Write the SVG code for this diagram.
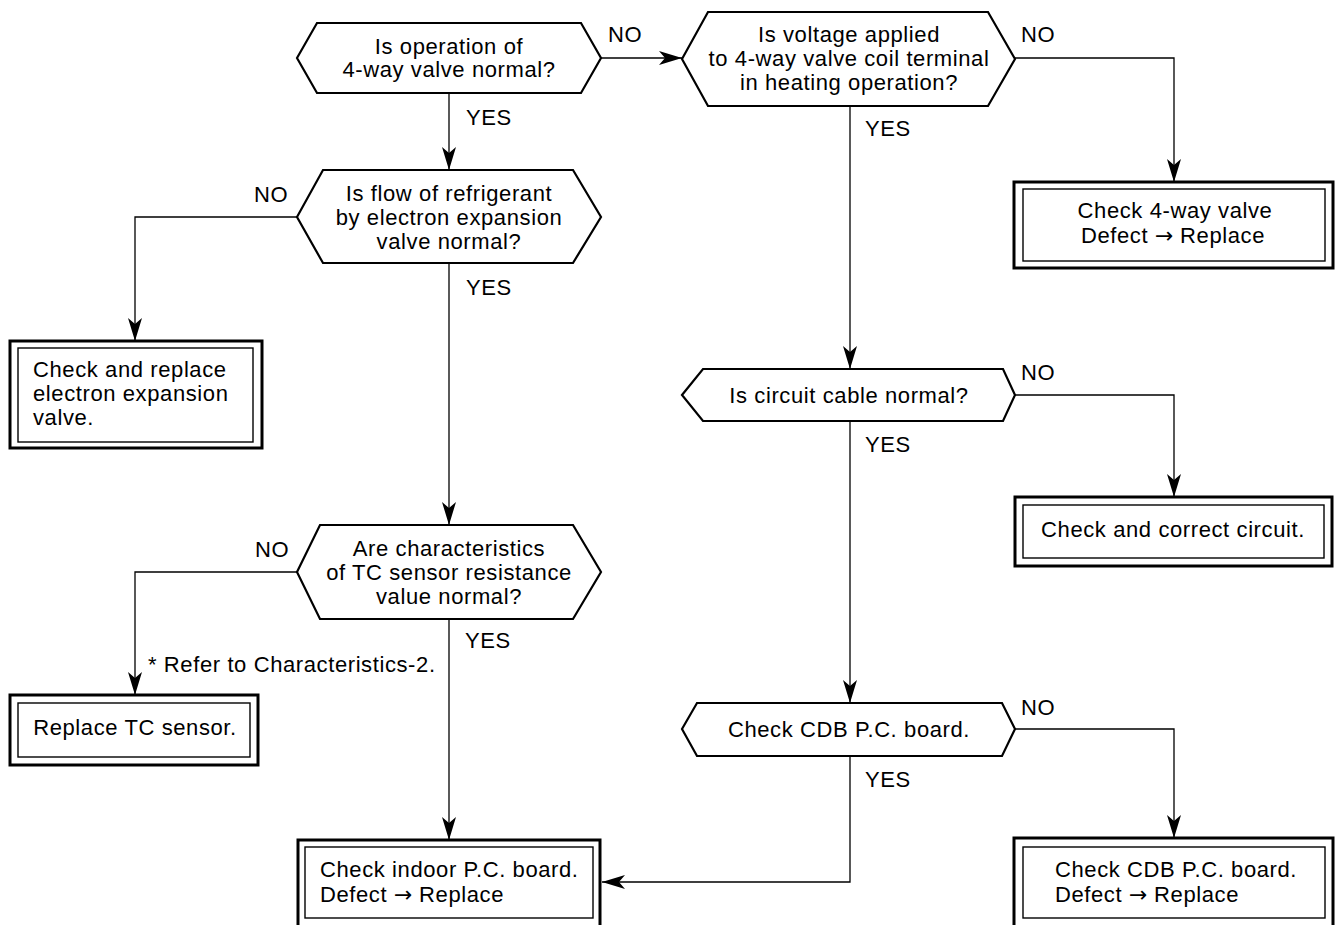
<svg xmlns="http://www.w3.org/2000/svg" width="1337" height="925" viewBox="0 0 1337 925">
<defs>
<style>
text{font-family:"Liberation Sans",Arial,sans-serif;font-size:22px;fill:#000;letter-spacing:0.6px}
.c{text-anchor:middle}
.ar{font-family:"DejaVu Sans",sans-serif;letter-spacing:0}
.hex{fill:#fff;stroke:#000;stroke-width:2.2;stroke-linejoin:miter}
.outer{fill:#fff;stroke:#000;stroke-width:3}
.inner{fill:none;stroke:#000;stroke-width:1.4}
.conn{fill:none;stroke:#000;stroke-width:1.3}
</style>
<marker id="ah" markerUnits="userSpaceOnUse" markerWidth="24" markerHeight="14" viewBox="0 0 24 14" refX="23" refY="7" orient="auto">
<path d="M0,0 L23,7 L0,14 L6,7 Z" fill="#000"/>
</marker>
</defs>
<rect width="1337" height="925" fill="#fff"/>
<g id="connectors">
<path class="conn" d="M449,93 V170" marker-end="url(#ah)"/>
<path class="conn" d="M449,262 V525" marker-end="url(#ah)"/>
<path class="conn" d="M449,619 V840" marker-end="url(#ah)"/>
<path class="conn" d="M297,217 H135 V341" marker-end="url(#ah)"/>
<path class="conn" d="M297,572 H135 V695" marker-end="url(#ah)"/>
<path class="conn" d="M601,58 H682" marker-end="url(#ah)"/>
<path class="conn" d="M850,106 V369" marker-end="url(#ah)"/>
<path class="conn" d="M850,421 V703" marker-end="url(#ah)"/>
<path class="conn" d="M850,756 V882 H602" marker-end="url(#ah)"/>
<path class="conn" d="M1015,58 H1174 V182" marker-end="url(#ah)"/>
<path class="conn" d="M1015,395 H1174 V497" marker-end="url(#ah)"/>
<path class="conn" d="M1015,729 H1174 V838" marker-end="url(#ah)"/>
<text x="608" y="42">NO</text>
<text x="1021" y="42">NO</text>
<text x="466" y="125">YES</text>
<text x="865" y="136">YES</text>
<text x="254" y="202">NO</text>
<text x="466" y="295">YES</text>
<text x="1021" y="380">NO</text>
<text x="865" y="452">YES</text>
<text x="255" y="557">NO</text>
<text x="465" y="648">YES</text>
<text x="148" y="672">* Refer to Characteristics-2.</text>
<text x="1021" y="715">NO</text>
<text x="865" y="787">YES</text>
</g>
<g id="q1">
<polygon class="hex" points="297,58 317,23 581,23 601,58 581,93 317,93"/>
<text class="c" x="449" y="54">Is operation of</text>
<text class="c" x="449" y="77">4-way valve normal?</text>
</g>
<g id="q2">
<polygon class="hex" points="682,59 708,12 988,12 1015,59 988,106 708,106"/>
<text class="c" x="849" y="42">Is voltage applied</text>
<text class="c" x="849" y="66">to 4-way valve coil terminal</text>
<text class="c" x="849" y="90">in heating operation?</text>
</g>
<g id="q3">
<polygon class="hex" points="297,217 323,170 573,170 601,217 573,263 323,263"/>
<text class="c" x="449" y="201">Is flow of refrigerant</text>
<text class="c" x="449" y="225">by electron expansion</text>
<text class="c" x="449" y="249">valve normal?</text>
</g>
<g id="q4">
<polygon class="hex" points="297,572 320,525 573,525 601,572 573,619 320,619"/>
<text class="c" x="449" y="556">Are characteristics</text>
<text class="c" x="449" y="580">of TC sensor resistance</text>
<text class="c" x="449" y="604">value normal?</text>
</g>
<g id="q5">
<polygon class="hex" points="682,395 703,369 1003,369 1015,395 1003,421 703,421"/>
<text class="c" x="849" y="403">Is circuit cable normal?</text>
</g>
<g id="q6">
<polygon class="hex" points="682,729 697,703 1002,703 1015,729 1002,756 697,756"/>
<text class="c" x="849" y="737">Check CDB P.C. board.</text>
</g>
<g id="b1">
<rect class="outer" x="1014" y="182" width="319" height="86"/>
<rect class="inner" x="1023" y="189" width="302" height="72"/>
<text class="c" x="1175" y="218">Check 4-way valve</text>
<text class="c" x="1173" y="243">Defect <tspan class="ar">→</tspan> Replace</text>
</g>
<g id="b2">
<rect class="outer" x="10" y="341" width="252" height="107"/>
<rect class="inner" x="18" y="348" width="235" height="94"/>
<text x="33" y="377">Check and replace</text>
<text x="33" y="401">electron expansion</text>
<text x="33" y="425">valve.</text>
</g>
<g id="b3">
<rect class="outer" x="1015" y="497" width="317" height="69"/>
<rect class="inner" x="1023" y="505" width="301" height="53"/>
<text class="c" x="1173" y="537">Check and correct circuit.</text>
</g>
<g id="b4">
<rect class="outer" x="10" y="695" width="248" height="70"/>
<rect class="inner" x="18" y="703" width="232" height="54"/>
<text class="c" x="135" y="735">Replace TC sensor.</text>
</g>
<g id="b5">
<rect class="outer" x="298" y="840" width="302" height="90"/>
<rect class="inner" x="305" y="847" width="288" height="71"/>
<text x="320" y="877">Check indoor P.C. board.</text>
<text x="320" y="902">Defect <tspan class="ar">→</tspan> Replace</text>
</g>
<g id="b6">
<rect class="outer" x="1014" y="838" width="319" height="92"/>
<rect class="inner" x="1023" y="847" width="302" height="71"/>
<text x="1055" y="877">Check CDB P.C. board.</text>
<text x="1055" y="902">Defect <tspan class="ar">→</tspan> Replace</text>
</g>
</svg>
